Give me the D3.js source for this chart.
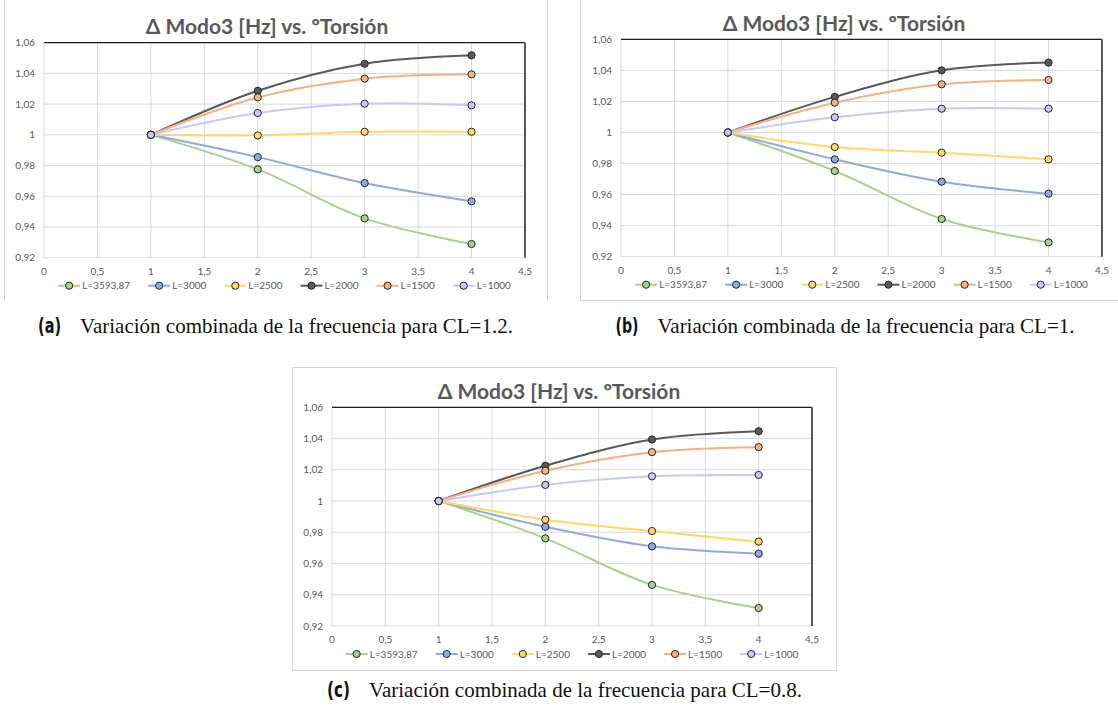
<!DOCTYPE html>
<html>
<head>
<meta charset="utf-8">
<script src="https://cdn.jsdelivr.net/npm/d3@7"></script>
<style>
  body { margin: 0; background: #fff; }
  svg { display: block; }
</style>
</head>
<body>
<svg id="fig" width="1118" height="710"></svg>
<script>
// ---- data ----
const seriesNames = ["L=3593,87", "L=3000", "L=2500", "L=2000", "L=1500", "L=1000"];
const torsionSteps = [1, 2, 3, 4];
const xTicks = [0, 0.5, 1, 1.5, 2, 2.5, 3, 3.5, 4, 4.5];
const xTickLabels = ["0", "0,5", "1", "1,5", "2", "2,5", "3", "3,5", "4", "4,5"];
const yTicks = [0.92, 0.94, 0.96, 0.98, 1, 1.02, 1.04, 1.06];
const yTickLabels = ["0,92", "0,94", "0,96", "0,98", "1", "1,02", "1,04", "1,06"];
const chartTitle = "Δ Modo3 [Hz] vs. ºTorsión";

// normalised third-mode frequency, one row per length, CL = 1.2
const freqCL12 = [
  [1, 0.9775, 0.9456, 0.9289],
  [1, 0.9855, 0.9686, 0.9567],
  [1, 0.9996, 1.0020, 1.0020],
  [1, 1.0287, 1.0463, 1.0518],
  [1, 1.0244, 1.0366, 1.0394],
  [1, 1.0142, 1.0203, 1.0192]
];
// CL = 1
const freqCL10 = [
  [1, 0.9752, 0.9443, 0.9292],
  [1, 0.9827, 0.9683, 0.9606],
  [1, 0.9906, 0.9870, 0.9827],
  [1, 1.0229, 1.0400, 1.0450],
  [1, 1.0192, 1.0310, 1.0338],
  [1, 1.0098, 1.0153, 1.0153]
];
// CL = 0.8
const freqCL08 = [
  [1, 0.9761, 0.9463, 0.9315],
  [1, 0.9835, 0.9710, 0.9663],
  [1, 0.9880, 0.9808, 0.9740],
  [1, 1.0226, 1.0394, 1.0447],
  [1, 1.0194, 1.0313, 1.0345],
  [1, 1.0103, 1.0158, 1.0167]
];

const captionLabels = ["(a)", "(b)", "(c)"];
const captionTexts = [
  "Variación combinada de la frecuencia para CL=1.2.",
  "Variación combinada de la frecuencia para CL=1.",
  "Variación combinada de la frecuencia para CL=0.8."
];

// ---- styles ----
const seriesColors = ["#a9d18e", "#8faadc", "#ffd966", "#595959", "#f4b183", "#c8c8f8"];
const textGrey = "#595959";
const gridGrey = "#d9d9d9";
const frameGrey = "#d4d4d4";
const uiFont = "Lato, 'Open Sans', sans-serif";

const svg = d3.select("#fig");

// ---- panel layout ----
const panels = [
  { values: freqCL12, plot: { x0: 44, x1: 525, y0: 42.7, y1: 257.7 }, titleX: 267, titleY: 34,
    capX: 275.5, capY: 333,
    frame: [[4.5, -2, 4.5, 300], [547.5, -2, 547.5, 300]] },
  { values: freqCL10, plot: { x0: 621, x1: 1102, y0: 39.3, y1: 256.7 }, titleX: 844, titleY: 30.5,
    capX: 845, capY: 333,
    frame: [[580.5, -2, 580.5, 300.5], [580.5, 300.5, 1120, 300.5]] },
  { values: freqCL08, plot: { x0: 332, x1: 812, y0: 407.3, y1: 626 }, titleX: 559, titleY: 399,
    capX: 564.5, capY: 697,
    frame: [[292.5, 367.5, 836.5, 367.5], [836.5, 367.5, 836.5, 670.5],
            [836.5, 670.5, 292.5, 670.5], [292.5, 670.5, 292.5, 367.5]] }
];

panels.forEach((p, pi) => {
  const g = svg.append("g");

  // outer chart frame
  p.frame.forEach(f => {
    g.append("line").attr("x1", f[0]).attr("y1", f[1]).attr("x2", f[2]).attr("y2", f[3])
      .attr("stroke", frameGrey).attr("stroke-width", 1);
  });

  const x = d3.scaleLinear().domain([0, 4.5]).range([p.plot.x0, p.plot.x1]);
  const y = d3.scaleLinear().domain([0.92, 1.06]).range([p.plot.y1, p.plot.y0]);

  // gridlines
  g.append("g").selectAll("line").data(yTicks).join("line")
    .attr("x1", p.plot.x0).attr("x2", p.plot.x1)
    .attr("y1", d => y(d)).attr("y2", d => y(d))
    .attr("stroke", gridGrey).attr("stroke-width", 1);
  g.append("g").selectAll("line").data(xTicks).join("line")
    .attr("y1", p.plot.y0).attr("y2", p.plot.y1)
    .attr("x1", d => x(d)).attr("x2", d => x(d))
    .attr("stroke", gridGrey).attr("stroke-width", 1);

  // top and right edges of the plot area
  g.append("line").attr("x1", p.plot.x0).attr("x2", p.plot.x1)
    .attr("y1", p.plot.y0).attr("y2", p.plot.y0)
    .attr("stroke", "#1e1e1e").attr("stroke-width", 1.3);
  g.append("line").attr("x1", p.plot.x1).attr("x2", p.plot.x1)
    .attr("y1", p.plot.y0).attr("y2", p.plot.y1)
    .attr("stroke", "#595959").attr("stroke-width", 2);

  // tick labels
  g.append("g").selectAll("text").data(yTicks).join("text")
    .attr("x", p.plot.x0 - 9).attr("y", d => y(d)).attr("dy", "0.35em")
    .attr("text-anchor", "end")
    .attr("font-family", uiFont).attr("font-size", 10).attr("fill", textGrey)
    .text((d, i) => yTickLabels[i]);
  g.append("g").selectAll("text").data(xTicks).join("text")
    .attr("x", d => x(d)).attr("y", p.plot.y1 + 17)
    .attr("text-anchor", "middle")
    .attr("font-family", uiFont).attr("font-size", 10).attr("fill", textGrey)
    .text((d, i) => xTickLabels[i]);

  // title
  g.append("text").attr("x", p.titleX).attr("y", p.titleY)
    .attr("text-anchor", "middle")
    .attr("font-family", uiFont).attr("font-weight", 700).attr("font-size", 21)
    .attr("fill", textGrey).text(chartTitle);

  // series lines and markers
  const line = d3.line()
    .x((d, i) => x(torsionSteps[i]))
    .y(d => y(d))
    .curve(d3.curveCatmullRom.alpha(0.5));

  p.values.forEach((row, si) => {
    g.append("path").datum(row).attr("d", line)
      .attr("fill", "none").attr("stroke", seriesColors[si]).attr("stroke-width", 2);
  });
  p.values.forEach((row, si) => {
    g.append("g").selectAll("circle").data(row).join("circle")
      .attr("cx", (d, i) => x(torsionSteps[i])).attr("cy", d => y(d))
      .attr("r", 3.6)
      .attr("fill", seriesColors[si]).attr("stroke", "#262626").attr("stroke-width", 1);
  });

  // legend, centred under the plot area
  const legY = p.plot.y1 + 28;
  const leg = g.append("g");
  let cursor = 0;
  const items = [];
  seriesNames.forEach((name, si) => {
    const it = leg.append("g");
    it.append("line").attr("x1", 0).attr("x2", 22).attr("y1", 0).attr("y2", 0)
      .attr("stroke", seriesColors[si]).attr("stroke-width", 2);
    it.append("circle").attr("cx", 11).attr("cy", 0).attr("r", 3.6)
      .attr("fill", seriesColors[si]).attr("stroke", "#262626").attr("stroke-width", 1);
    const t = it.append("text").attr("x", 24).attr("y", 0).attr("dy", "0.35em")
      .attr("font-family", uiFont).attr("font-size", 10).attr("fill", textGrey).text(name);
    const w = 24 + t.node().getComputedTextLength();
    items.push({ node: it, x: cursor });
    cursor += w + (si < seriesNames.length - 1 ? 18 : 0);
  });
  const legStart = (p.plot.x0 + p.plot.x1) / 2 - cursor / 2;
  items.forEach(d => d.node.attr("transform", `translate(${legStart + d.x},${legY})`));

  // caption: bold narrow label followed by serif text
  const cap = g.append("g");
  const lab = cap.append("text").attr("y", p.capY)
    .attr("font-family", "'Liberation Sans Narrow', 'DejaVu Sans Condensed', sans-serif")
    .attr("font-weight", 700).attr("font-size", 21).attr("fill", "#111")
    .attr("textLength", 23).attr("lengthAdjust", "spacingAndGlyphs")
    .text(captionLabels[pi]);
  const body = cap.append("text").attr("y", p.capY)
    .attr("font-family", "'Liberation Serif', 'Times New Roman', serif")
    .attr("font-size", 21).attr("fill", "#111")
    .text(captionTexts[pi]);
  const lw = 23;
  const bw = body.node().getComputedTextLength();
  const gap = 19;
  const start = p.capX - (lw + gap + bw) / 2;
  lab.attr("x", start);
  body.attr("x", start + lw + gap);
});
</script>
</body>
</html>
